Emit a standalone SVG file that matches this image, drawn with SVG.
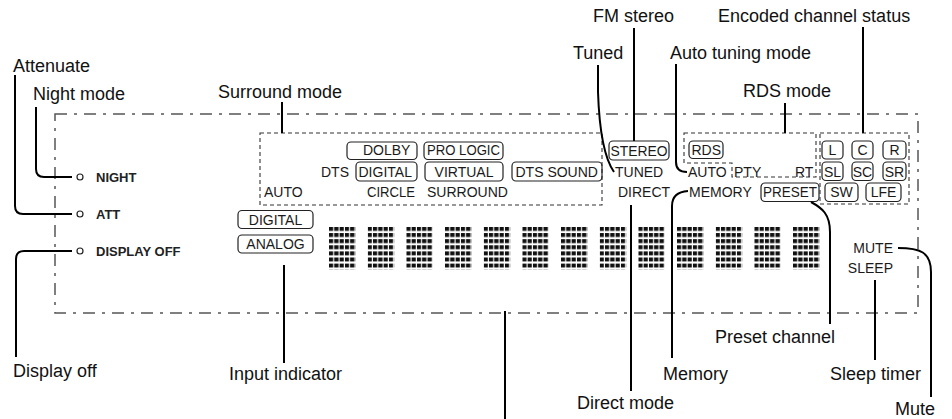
<svg xmlns="http://www.w3.org/2000/svg" width="952" height="419" viewBox="0 0 952 419">
<style>
.lbl{font-family:"Liberation Sans",Arial,Helvetica,sans-serif;font-size:18px;fill:#111}
.ind{font-family:"Liberation Sans",Arial,Helvetica,sans-serif;font-size:14px;fill:#1a1a1a}
.btn{font-family:"Liberation Sans",Arial,Helvetica,sans-serif;font-size:13px;font-weight:bold;fill:#222}
.box{fill:none;stroke:#222;stroke-width:1.2}
.dash{fill:none;stroke:#333;stroke-width:1.1;stroke-dasharray:4 3}
.panel{fill:none;stroke:#555;stroke-width:1.5;stroke-dasharray:12 7 3 7}
.con path{fill:none;stroke:#000;stroke-width:2}
.led{fill:#fff;stroke:#222;stroke-width:1.2}
.mid{text-anchor:middle}
.end{text-anchor:end}
.mx{fill:url(#dots)}
</style>
<defs>
<pattern id="dots" patternUnits="objectBoundingBox" width="0.2" height="0.142857">
<rect x="0" y="0" width="4.2" height="3.9" fill="#111"/>
</pattern>
</defs>
<rect width="952" height="419" fill="#fff"/>

<g id="panel">
<rect class="panel" x="55" y="114" width="863" height="199"/>
</g>

<g id="buttons">
<g id="night"><circle class="led" cx="80" cy="177" r="3"/><text class="btn" x="96" y="181.5">NIGHT</text></g>
<g id="att"><circle class="led" cx="80" cy="214" r="3"/><text class="btn" x="96" y="218.5">ATT</text></g>
<g id="dispoff"><circle class="led" cx="80" cy="251" r="3"/><text class="btn" x="96" y="255.5">DISPLAY OFF</text></g>
</g>

<g id="surround">
<rect class="dash" x="260" y="133" width="342" height="72"/>
<rect class="box" x="347" y="142" width="70" height="17.5" rx="4"/>
<text class="ind" x="363" y="155">DOLBY</text>
<rect class="box" x="424" y="142" width="79" height="17.5" rx="4"/>
<text class="ind" x="427" y="155" textLength="73" lengthAdjust="spacingAndGlyphs">PRO LOGIC</text>
<text class="ind end" x="349" y="177">DTS</text>
<rect class="box" x="356" y="162" width="61" height="19" rx="4"/>
<text class="ind" x="358.5" y="177">DIGITAL</text>
<rect class="box" x="425" y="162" width="78" height="19" rx="4"/>
<text class="ind mid" x="464" y="177">VIRTUAL</text>
<rect class="box" x="512" y="162" width="90" height="19" rx="4"/>
<text class="ind" x="515.5" y="177">DTS SOUND</text>
<text class="ind" x="264" y="197">AUTO</text>
<text class="ind" x="367" y="197" textLength="48" lengthAdjust="spacingAndGlyphs">CIRCLE</text>
<text class="ind" x="427" y="197">SURROUND</text>
</g>

<g id="tuner">
<rect class="box" x="609" y="141" width="60" height="19" rx="4"/>
<text class="ind" x="610.5" y="155.5" textLength="57" lengthAdjust="spacingAndGlyphs">STEREO</text>
<text class="ind" x="615" y="177">TUNED</text>
<text class="ind" x="618" y="197">DIRECT</text>
</g>

<g id="rds">
<path class="dash" d="M684,133 H816 V177 H732 V163 H684 Z"/>
<rect class="box" x="689" y="141" width="34" height="17.5" rx="4"/>
<text class="ind" x="691.5" y="155">RDS</text>
<text class="ind" x="688" y="177">AUTO</text>
<text class="ind" x="734" y="177">PTY</text>
<text class="ind" x="795" y="177">RT</text>
<text class="ind" x="689" y="197">MEMORY</text>
<rect class="box" x="761" y="183" width="58" height="18.5" rx="4"/>
<text class="ind" x="763" y="197" textLength="54" lengthAdjust="spacingAndGlyphs">PRESET</text>
</g>

<g id="channels">
<rect class="dash" x="820" y="133" width="89" height="71"/>
<rect class="box" x="822" y="141" width="21" height="18" rx="4"/><text class="ind mid" x="832.5" y="155">L</text>
<rect class="box" x="852" y="141" width="21" height="18" rx="4"/><text class="ind mid" x="862.5" y="155">C</text>
<rect class="box" x="883" y="141" width="23" height="18" rx="4"/><text class="ind mid" x="894.5" y="155">R</text>
<rect class="box" x="822" y="162" width="21" height="18.5" rx="4"/><text class="ind mid" x="832.5" y="176.5">SL</text>
<rect class="box" x="852" y="162" width="21" height="18.5" rx="4"/><text class="ind mid" x="862.5" y="176.5">SC</text>
<rect class="box" x="883" y="162" width="23" height="18.5" rx="4"/><text class="ind mid" x="894.5" y="176.5">SR</text>
<rect class="box" x="825" y="183" width="33" height="18.5" rx="4"/><text class="ind mid" x="841.5" y="197">SW</text>
<rect class="box" x="866" y="183" width="35" height="18.5" rx="4"/><text class="ind mid" x="883.5" y="197">LFE</text>
</g>

<g id="input">
<rect class="box" x="238" y="210.5" width="75" height="18" rx="4"/>
<text class="ind mid" x="275.5" y="224.5">DIGITAL</text>
<rect class="box" x="238" y="235" width="75" height="18" rx="4"/>
<text class="ind mid" x="275.5" y="249">ANALOG</text>
</g>

<g id="matrix">
<rect class="mx" x="329" y="227" width="26.5" height="42.7"/>
<rect class="mx" x="367.7" y="227" width="26.5" height="42.7"/>
<rect class="mx" x="406.3" y="227" width="26.5" height="42.7"/>
<rect class="mx" x="445" y="227" width="26.5" height="42.7"/>
<rect class="mx" x="483.7" y="227" width="26.5" height="42.7"/>
<rect class="mx" x="522.3" y="227" width="26.5" height="42.7"/>
<rect class="mx" x="561" y="227" width="26.5" height="42.7"/>
<rect class="mx" x="599.7" y="227" width="26.5" height="42.7"/>
<rect class="mx" x="638.3" y="227" width="26.5" height="42.7"/>
<rect class="mx" x="677" y="227" width="26.5" height="42.7"/>
<rect class="mx" x="715.7" y="227" width="26.5" height="42.7"/>
<rect class="mx" x="754.3" y="227" width="26.5" height="42.7"/>
<rect class="mx" x="793" y="227" width="26.5" height="42.7"/>
</g>

<g id="status">
<text class="ind end" x="893" y="253">MUTE</text>
<text class="ind end" x="893" y="273">SLEEP</text>
</g>

<g id="labels">
<text id="l-att" class="lbl" x="13" y="72">Attenuate</text>
<text id="l-night" class="lbl" x="33" y="100">Night mode</text>
<text id="l-surround" class="lbl" x="218" y="98">Surround mode</text>
<text id="l-fm" class="lbl" x="593" y="22">FM stereo</text>
<text id="l-tuned" class="lbl" x="573" y="59">Tuned</text>
<text id="l-autotune" class="lbl" x="670" y="59">Auto tuning mode</text>
<text id="l-encoded" class="lbl" x="718" y="22">Encoded channel status</text>
<text id="l-rds" class="lbl" x="743" y="97">RDS mode</text>
<text id="l-dispoff" class="lbl" x="13" y="377">Display off</text>
<text id="l-input" class="lbl" x="229" y="380">Input indicator</text>
<text id="l-direct" class="lbl" x="577" y="409">Direct mode</text>
<text id="l-memory" class="lbl" x="663" y="380">Memory</text>
<text id="l-preset" class="lbl" x="715" y="343">Preset channel</text>
<text id="l-sleep" class="lbl" x="830" y="380">Sleep timer</text>
<text id="l-mute" class="lbl" x="895" y="415">Mute</text>
</g>

<g id="connectors" class="con">
<path d="M15,75 V206 Q15,214 23,214 H72"/>
<path d="M36,107 V169 Q36,177 44,177 H72"/>
<path d="M16,357 V259 Q16,251 24,251 H72"/>
<path d="M282,102 V133"/>
<path d="M634,28 V141"/>
<path d="M598,65 V92 Q600,152 614,172"/>
<path d="M676,64 V162 Q676,172 687,172"/>
<path d="M785,103 V133"/>
<path d="M863,27 V133"/>
<path d="M284,265 V363"/>
<path d="M505,311 V419"/>
<path d="M631,205 V391"/>
<path d="M672,358 V206 Q672,192 688,191"/>
<path d="M811,202 C822,208 830,214 830,232 V324"/>
<path d="M875,280 V360"/>
<path d="M898,248 C920,248 931,252 931,272 V397"/>
</g>
</svg>
